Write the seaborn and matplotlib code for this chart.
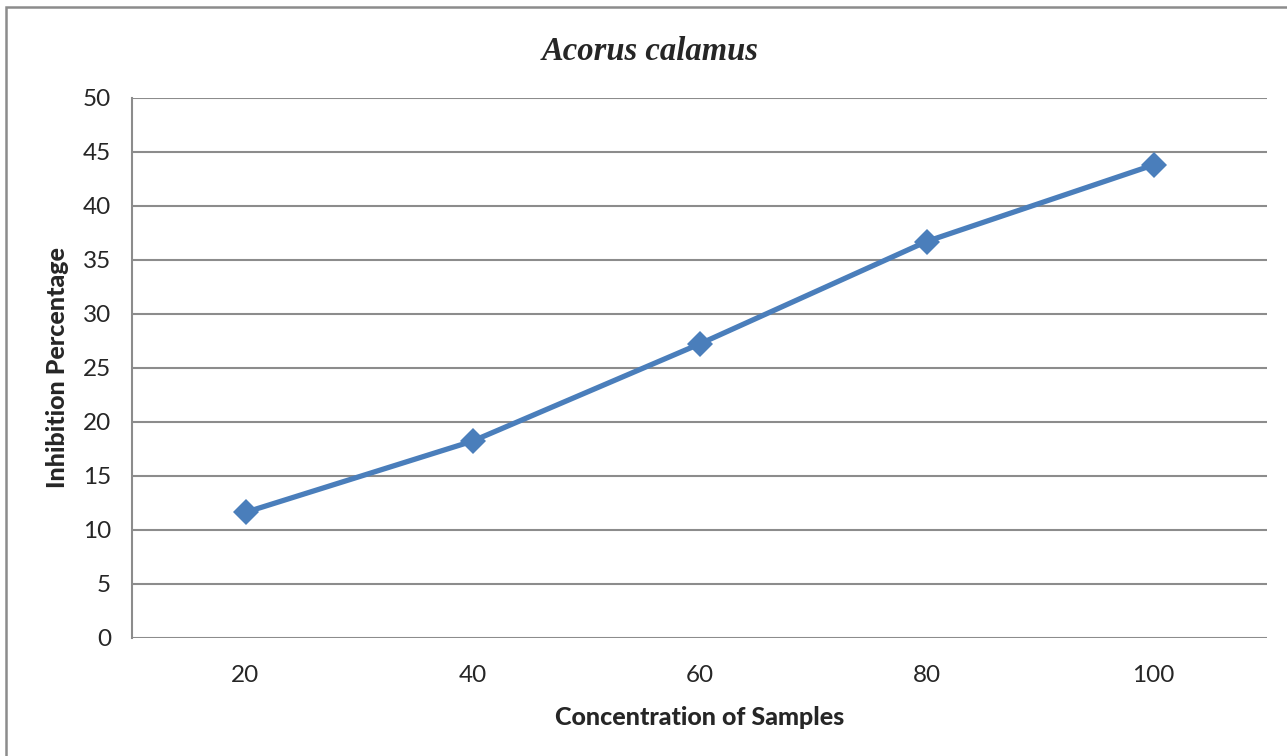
import matplotlib
matplotlib.use("Agg")
import matplotlib.pyplot as plt
import seaborn as sns
import pandas as pd
from matplotlib.patches import Rectangle

# Data
concentrations = ["20", "40", "60", "80", "100"]
inhibition = [11.6, 18.2, 27.2, 36.7, 43.8]
y_ticks = [0, 5, 10, 15, 20, 25, 30, 35, 40, 45, 50]

title = "Acorus calamus"
x_label = "Concentration of Samples"
y_label = "Inhibition Percentage"

sns.set_style("white")
plt.rcParams['font.family'] = ['Lato', 'DejaVu Sans']

W, H = 1287, 756
fig = plt.figure(figsize=(W / 100, H / 100), dpi=100)
ax = fig.add_axes([132 / W, 1 - 637.5 / H, (1267 - 132) / W, (637.5 - 98) / H])

df = pd.DataFrame({"conc": concentrations, "inh": inhibition})
sns.lineplot(data=df, x="conc", y="inh", ax=ax, color="#4A7EBB", linewidth=3.8,
             marker="D", markersize=13, markeredgewidth=0, sort=False)

grid_c = "#8C8C8C"
ax.set_xlim(-0.5, len(concentrations) - 0.5)
ax.set_ylim(0, 50)
ax.set_yticks(y_ticks)
ax.set_yticklabels([str(v) for v in y_ticks])
ax.yaxis.grid(True, color=grid_c, linewidth=1.5)
ax.xaxis.grid(False)
ax.set_axisbelow(True)
for s in ["top", "right", "bottom"]:
    ax.spines[s].set_visible(False)
ax.spines["left"].set_color(grid_c)
ax.spines["left"].set_linewidth(1.5)
ax.tick_params(axis="y", length=9, width=1.5, color=grid_c, labelsize=17.5, pad=6)
ax.tick_params(axis="x", length=0, labelsize=17.5, pad=20)

ax.set_xlabel(x_label, fontsize=18, fontweight="black", labelpad=14)
ax.set_ylabel(y_label, fontsize=18, fontweight="black", labelpad=10)

fig.text(0.505, 1 - 51 / H, title, ha="center", va="center",
         fontsize=23.5, fontweight="bold", fontstyle="italic",
         family=["Liberation Serif", "DejaVu Serif"])

fig.patches.append(Rectangle((6 / W, -0.1), 1.2, (1 - 7.5 / H) + 0.1,
                             transform=fig.transFigure, fill=False,
                             edgecolor=grid_c, linewidth=1.8))

fig.savefig("out.png", dpi=100, facecolor="white")
